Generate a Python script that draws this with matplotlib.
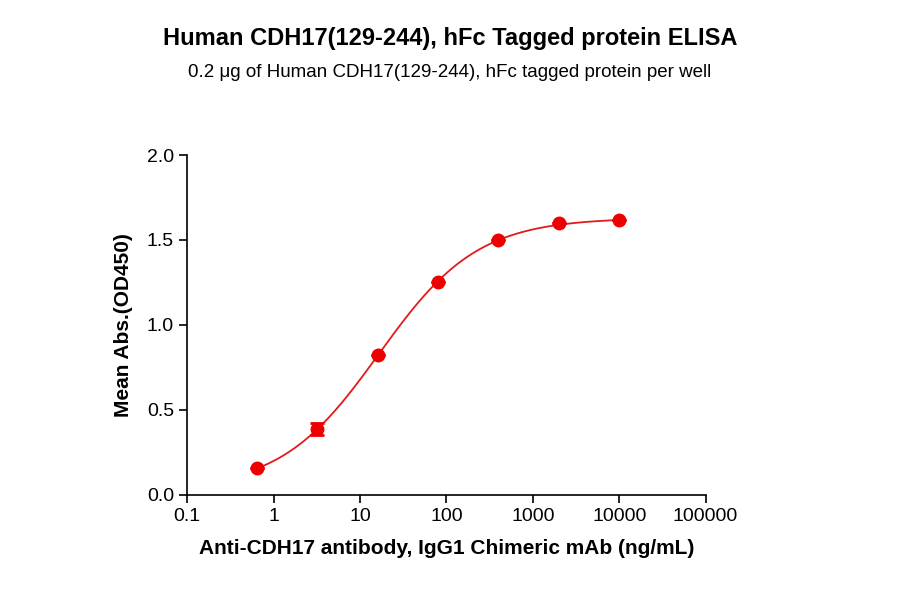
import numpy as np
import matplotlib
matplotlib.use("Agg")
import matplotlib.pyplot as plt
plt.rcParams['font.family'] = ['Liberation Sans', 'DejaVu Sans']

conc = [0.64, 3.2, 16, 80, 400, 2000, 10000]
od = [0.16, 0.385, 0.825, 1.25, 1.50, 1.60, 1.615]
err = [0.0, 0.035, 0.0, 0.0, 0.0, 0.0, 0.0]
xticks = [0.1, 1, 10, 100, 1000, 10000, 100000]
xticklabels = ["0.1", "1", "10", "100", "1000", "10000", "100000"]

x = np.array(conc); y = np.array(od)
best = None
for b in np.linspace(0.0, 0.2, 21):
    for t in np.linspace(1.55, 1.75, 21):
        for lc in np.linspace(0.8, 1.8, 51):
            for h in np.linspace(0.6, 1.4, 41):
                p = b + (t - b) / (1 + (10**lc / x) ** h)
                s = ((p - y) ** 2).sum()
                if best is None or s < best[0]:
                    best = (s, b, t, lc, h)
_, b, t, lc, h = best
xf = np.logspace(np.log10(conc[0]), np.log10(conc[-1]), 300)
yf = b + (t - b) / (1 + (10**lc / xf) ** h)

fig = plt.figure(figsize=(9, 5.94), dpi=100)
ax = fig.add_axes([0.208, 0.167, 0.576, 0.572])
ax.plot(xf, yf, color="#e31a1c", lw=1.3)
ax.errorbar(conc, od, yerr=err, fmt="o", color="#ee0000", ms=9, capsize=5, elinewidth=2, capthick=2)
ax.set_xscale("log")
ax.set_xlim(0.1, 100000)
ax.set_ylim(0, 2.0)
ax.set_xticks(xticks)
ax.set_xticklabels(xticklabels)
ax.minorticks_off()
ax.set_yticks([0, 0.5, 1.0, 1.5, 2.0])
ax.set_yticklabels(["0.0", "0.5", "1.0", "1.5", "2.0"])
for s in ["top", "right"]:
    ax.spines[s].set_visible(False)
for s in ["left", "bottom"]:
    ax.spines[s].set_linewidth(1.2)
ax.tick_params(labelsize=14, width=1.2, length=6)
ax.set_xlabel("Anti-CDH17 antibody, IgG1 Chimeric mAb (ng/mL)", fontsize=15, fontweight="bold", labelpad=10)
ax.set_ylabel("Mean Abs.(OD450)", fontsize=15, fontweight="bold", labelpad=10)
fig.text(0.5, 0.925, "Human CDH17(129-244), hFc Tagged protein ELISA", ha="center", fontsize=17, fontweight="bold")
fig.text(0.5, 0.87, "0.2 \u03bcg of Human CDH17(129-244), hFc tagged protein per well", ha="center", fontsize=13.5)
fig.savefig("out.png", dpi=100)
